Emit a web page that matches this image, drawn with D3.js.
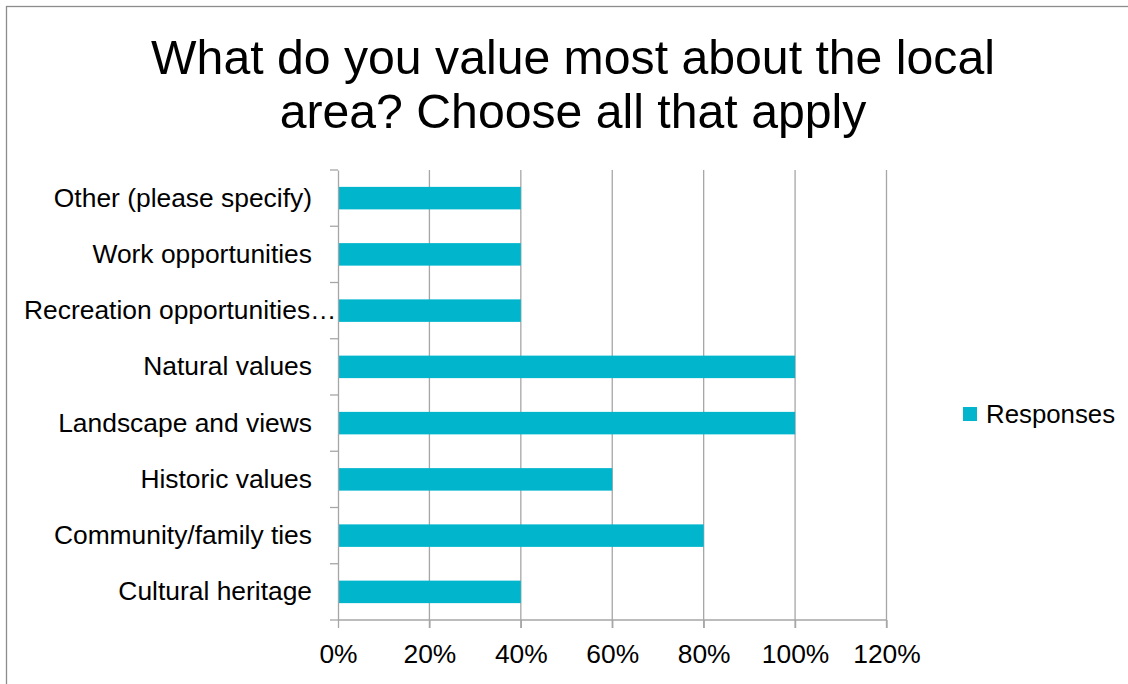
<!DOCTYPE html>
<html>
<head>
<meta charset="utf-8">
<script src="https://cdn.jsdelivr.net/npm/d3@7/dist/d3.min.js"></script>
<style>
  html, body { margin: 0; padding: 0; background: #fff; }
  svg { display: block; font-family: "Liberation Sans", Arial, sans-serif; }
</style>
</head>
<body>
<svg id="chart" width="1128" height="684"></svg>
<script>
// Survey question and answer options (listed bottom to top)
const titleLines = ["What do you value most about the local", "area? Choose all that apply"];
const categories = [
  "Cultural heritage",
  "Community/family ties",
  "Historic values",
  "Landscape and views",
  "Natural values",
  "Recreation opportunities…",
  "Work opportunities",
  "Other (please specify)"
];
const responses = [0.40, 0.80, 0.60, 1.00, 1.00, 0.40, 0.40, 0.40];
const xTicks = [0, 0.2, 0.4, 0.6, 0.8, 1.0, 1.2];
const seriesName = "Responses";

const barColor = "#00b5cc";
const gridColor = "#a6a6a6";
const labelSize = 26.4;

const svg = d3.select("#chart");

// Outer chart frame
svg.append("rect")
  .attr("x", 6.5).attr("y", 6.5)
  .attr("width", 1140).attr("height", 700)
  .attr("fill", "none").attr("stroke", "#8c8c8c").attr("stroke-width", 1.3);

// Title
svg.append("text")
  .attr("x", 573).attr("y", 74)
  .attr("text-anchor", "middle")
  .attr("font-size", 48.2)
  .attr("fill", "#000")
  .selectAll("tspan")
  .data(titleLines)
  .join("tspan")
  .attr("x", 573)
  .attr("dy", (d, i) => i === 0 ? 0 : 54)
  .text(d => d);

const plot = { left: 338, right: 886.5, top: 170, bottom: 620 };

const x = d3.scaleLinear().domain([0, 1.2]).range([plot.left, plot.right]);
const y = d3.scaleBand()
  .domain(categories.slice().reverse())
  .range([plot.top, plot.bottom])
  .paddingInner(0.6).paddingOuter(0.3);

const yTick = d3.scaleBand().domain(categories.slice().reverse()).range([plot.top, plot.bottom]);

// Vertical gridlines
svg.append("g")
  .selectAll("line")
  .data(xTicks.slice(1))
  .join("line")
  .attr("x1", d => x(d)).attr("x2", d => x(d))
  .attr("y1", plot.top).attr("y2", plot.bottom + 8)
  .attr("stroke", gridColor).attr("stroke-width", 1.3);

// Bars
svg.append("g")
  .selectAll("rect")
  .data(categories)
  .join("rect")
  .attr("x", x(0))
  .attr("y", d => y(d))
  .attr("width", (d, i) => x(responses[i]) - x(0))
  .attr("height", y.bandwidth())
  .attr("fill", barColor);

// Category axis (left)
const yAxis = d3.axisLeft(yTick).tickSize(0).tickPadding(26);
const gy = svg.append("g")
  .attr("transform", `translate(${plot.left},0)`)
  .call(yAxis);
gy.select(".domain").attr("stroke", gridColor).attr("stroke-width", 1.3);
gy.selectAll("text").attr("font-size", labelSize).attr("fill", "#000")
  .attr("font-family", "'Liberation Sans', Arial, sans-serif");
// Labels too long for the margin start at the frame edge and run over the axis
const labelMinX = 24 - plot.left;
gy.selectAll("text").each(function() {
  const w = this.getComputedTextLength();
  const xr = -26;
  if (xr - w < labelMinX) {
    d3.select(this).attr("text-anchor", "start").attr("x", labelMinX);
  }
});
// Category boundary ticks
svg.append("g")
  .selectAll("line")
  .data(d3.range(categories.length + 1))
  .join("line")
  .attr("x1", plot.left - 8).attr("x2", plot.left)
  .attr("y1", i => plot.top + i * yTick.step())
  .attr("y2", i => plot.top + i * yTick.step())
  .attr("stroke", gridColor).attr("stroke-width", 1.3);

// Value axis (bottom)
const xAxis = d3.axisBottom(x).tickValues(xTicks).tickFormat(d3.format(".0%")).tickSize(8).tickPadding(16);
const gx = svg.append("g")
  .attr("transform", `translate(0,${plot.bottom})`)
  .call(xAxis);
gx.select(".domain").attr("stroke", gridColor).attr("stroke-width", 1.3).attr("d", `M${plot.left},0H${plot.right}`);
gx.selectAll(".tick line").attr("stroke", gridColor).attr("stroke-width", 1.3);
gx.selectAll("text").attr("font-size", labelSize).attr("fill", "#000")
  .attr("font-family", "'Liberation Sans', Arial, sans-serif");

// Legend
const legend = svg.append("g").attr("transform", "translate(963,407)");
legend.append("rect").attr("width", 14).attr("height", 14).attr("fill", barColor);
legend.append("text").attr("x", 23).attr("y", 16)
  .attr("font-size", 25.8).attr("fill", "#000").text(seriesName);
</script>
</body>
</html>
